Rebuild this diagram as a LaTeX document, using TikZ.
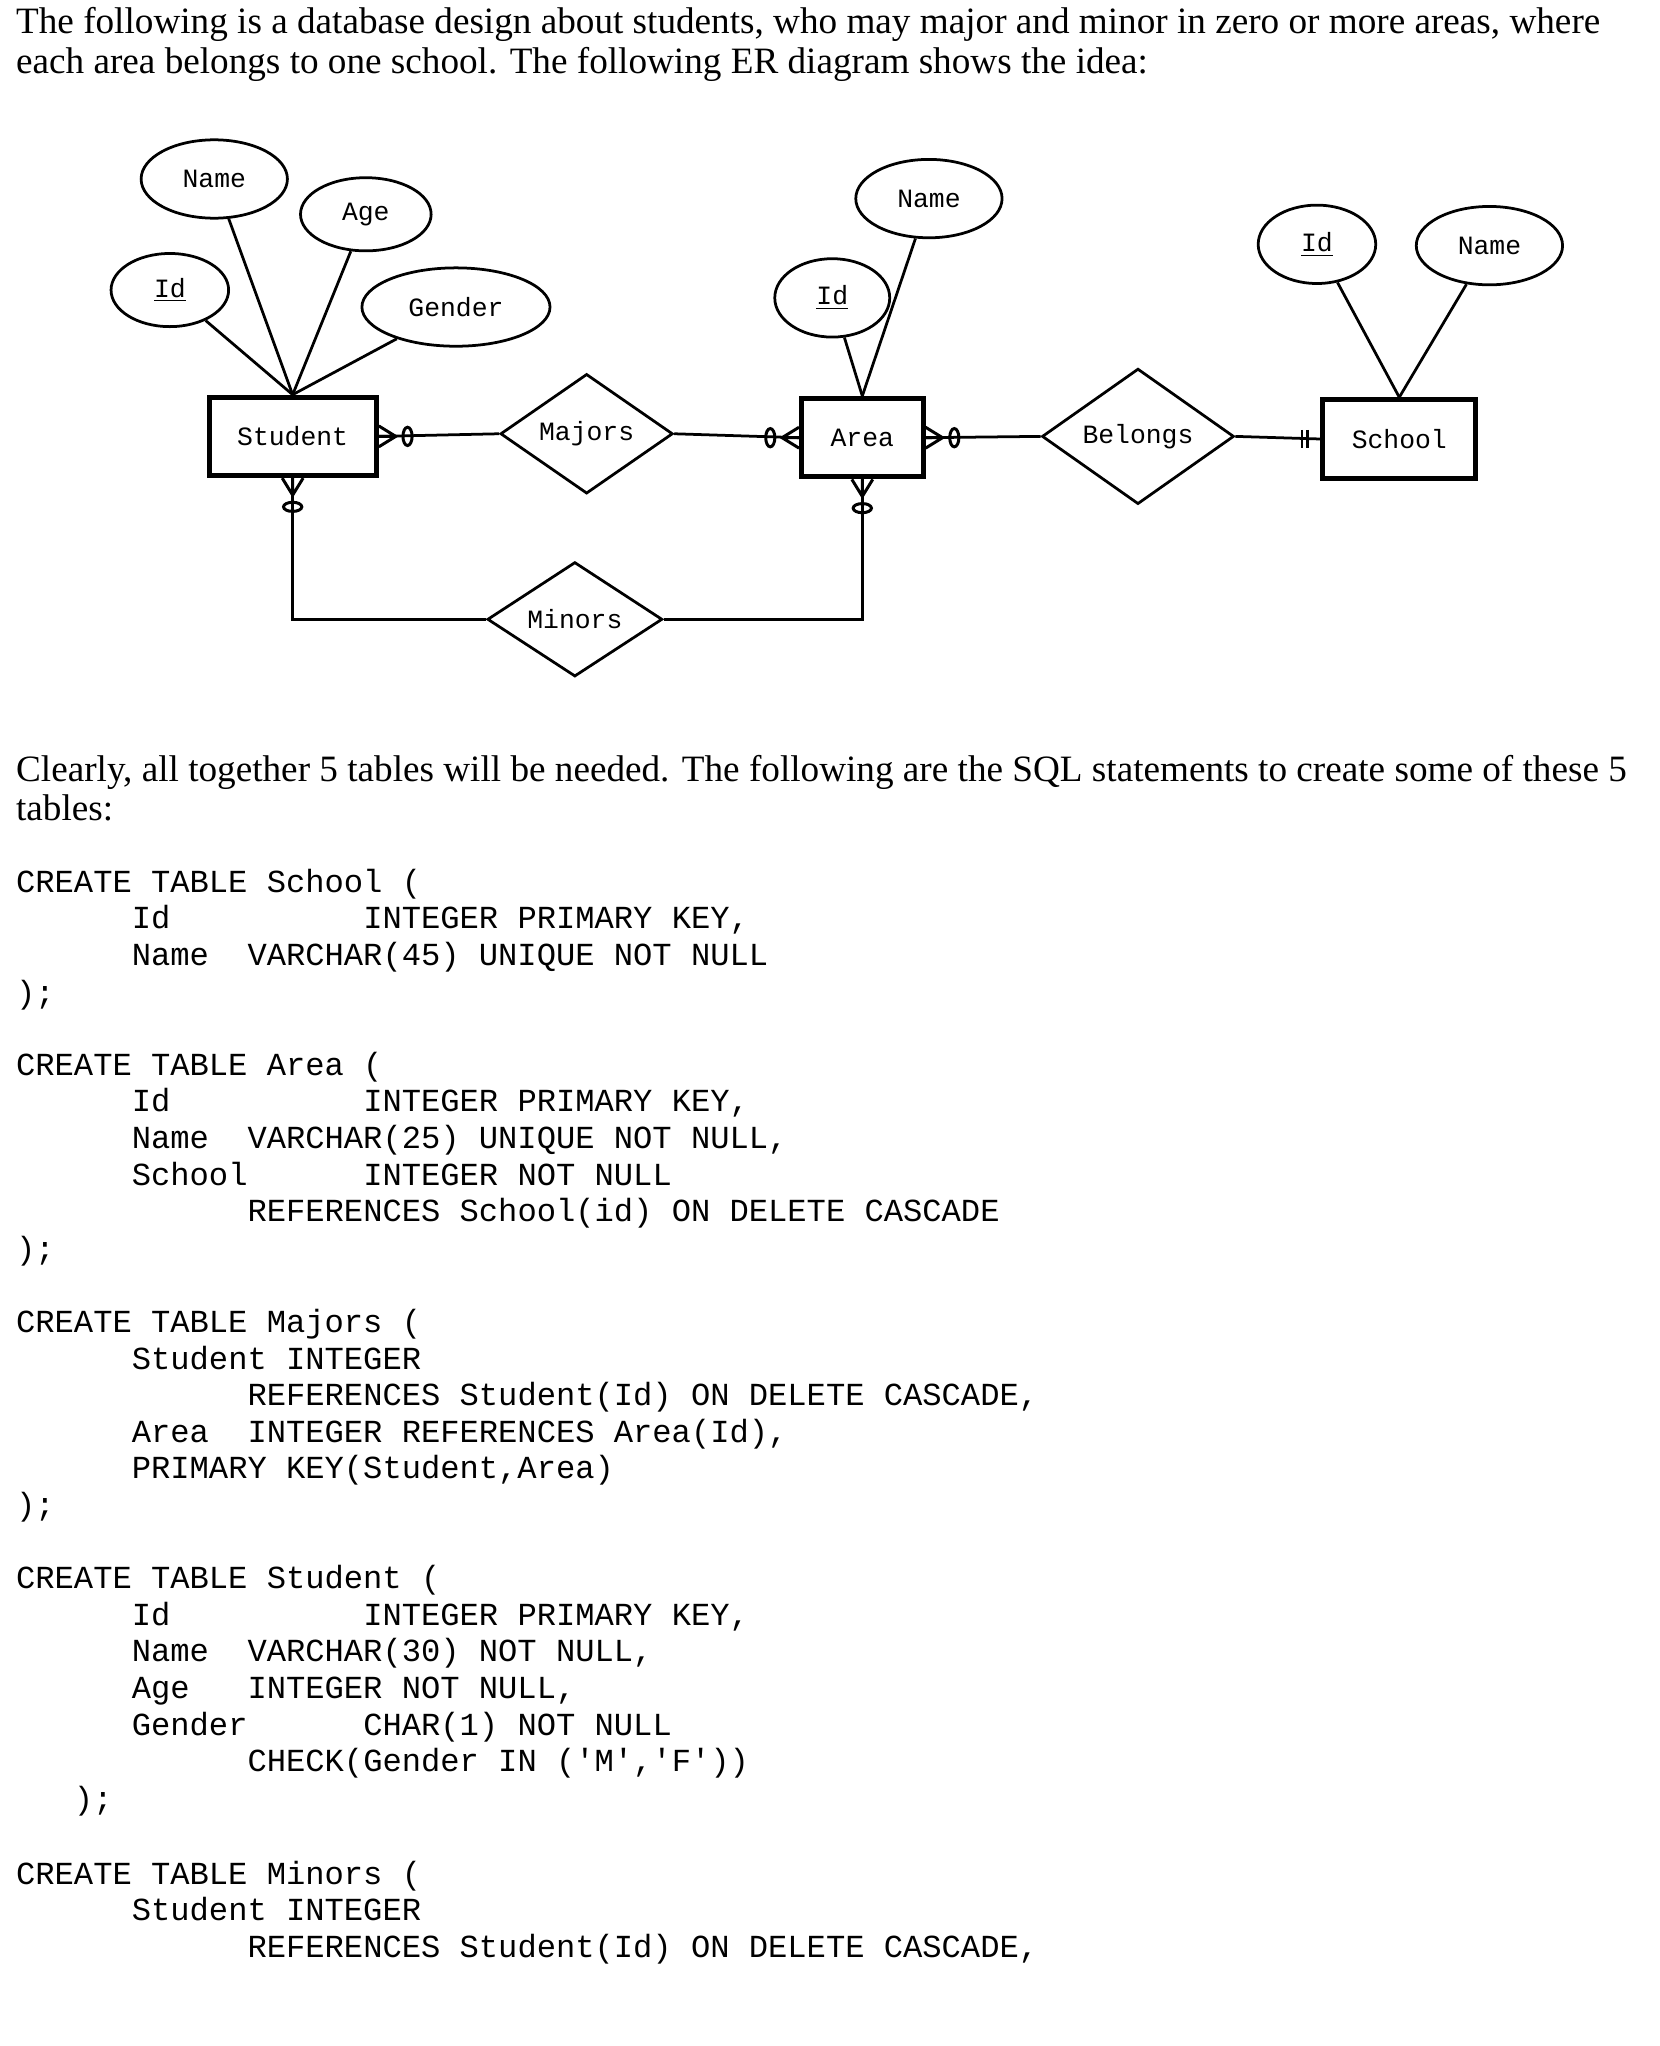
\documentclass[tikz,border=0pt]{standalone}
\usepackage{fontspec}
\setmainfont{Liberation Serif}
\setmonofont{Liberation Mono}
\usetikzlibrary{shapes.geometric}
\tikzset{
  entity/.style={draw, line width=2.2pt, font=\fontsize{11.5}{13}\selectfont\ttfamily, minimum height=1.2cm},
  relation/.style={diamond, draw, line width=1.2pt, inner sep=0pt, font=\fontsize{11.5}{13}\selectfont\ttfamily},
  attr/.style={ellipse, draw, line width=1.2pt, minimum height=1.2cm, inner sep=0pt, font=\fontsize{11.5}{13}\selectfont\ttfamily},
  link/.style={line width=1.2pt},
  prose/.style={anchor=base west, inner sep=0pt, font=\fontsize{16.2}{18}\selectfont},
  code/.style={anchor=base west, inner sep=0pt, font=\fontsize{14}{16}\selectfont\ttfamily}
}
% zero-or-many crow's foot at an anchor, pointing away along the given angle
\newcommand\zmany[2]{\begin{scope}[shift={(#1)}, rotate=#2, line width=1.3pt]
  \draw (0,8) -- (13,0) -- (0,-8) (0,0) -- (13,0);
  \draw (22,0) ellipse (3.5 and 7);
\end{scope}}
\begin{document}
\begin{tikzpicture}[x=0.02cm, y=-0.02cm]
  \useasboundingbox (0,0) rectangle (1270,1566);
  % intro text
  \node[prose] at (12,26) {The following is a database design about students, who may major and minor in zero or more areas, where};
  \node[prose] at (12,56) {each area belongs to one school. The following ER diagram shows the idea:};
  % entities and relations
  \node[entity, minimum width=2.56cm] (student) at (224,334) {Student};
  \node[entity, minimum width=1.86cm] (area) at (660,335) {Area};
  \node[entity, minimum width=2.34cm] (school) at (1071,336) {School};
  \node[relation, minimum width=2.64cm, minimum height=1.6cm] (majors) at (449,332) {Majors};
  \node[relation, minimum width=2.94cm, minimum height=1.76cm] (belongs) at (871,334) {Belongs};
  \node[relation, minimum width=2.68cm, minimum height=1.62cm] (minors) at (440,474) {Minors};
  % attributes
  \node[attr, minimum width=2.24cm] (sname) at (164,137) {Name};
  \node[attr, minimum width=2.0cm, minimum height=1.12cm] (sage) at (280,164) {Age};
  \node[attr, minimum width=1.8cm, minimum height=1.12cm] (sid) at (130,222) {\underline{Id}};
  \node[attr, minimum width=2.88cm] (sgender) at (349,235) {Gender};
  \node[attr, minimum width=2.24cm] (aname) at (711,152) {Name};
  \node[attr, minimum width=1.76cm] (aid) at (637,228) {\underline{Id}};
  \node[attr, minimum width=1.8cm] (schid) at (1008,187) {\underline{Id}};
  \node[attr, minimum width=2.24cm] (schname) at (1140,188) {Name};
  \foreach \a in {sname,sage,sid,sgender}
    \draw[link] (\a) -- (student.north);
  \foreach \a in {aname,aid}
    \draw[link] (\a) -- (area.north);
  \foreach \a in {schid,schname}
    \draw[link] (\a) -- (school.north);
  % relationships
  \draw[link] (student.east) -- (majors.west);
  \draw[link] (majors.east) -- (area.west);
  \draw[link] (area.east) -- (belongs.west);
  \draw[link] (belongs.east) -- (school.west);
  \draw[link] (student.south) |- (minors.west);
  \draw[link] (minors.east) -| (area.south);
  \zmany{student.east}{0}
  \zmany{area.west}{180}
  \zmany{area.east}{0}
  \zmany{student.south}{-90}
  \zmany{area.south}{-90}
  \draw[link] ([xshift=-0.2cm, yshift=0.14cm]school.west) -- ++(0,14)
    ([xshift=-0.28cm, yshift=0.14cm]school.west) -- ++(0,14);
  % text and SQL
  \node[prose] at (12,598) {Clearly, all together 5 tables will be needed. The following are the SQL statements to create some of these 5};
  \node[prose] at (12,628) {tables:};
  \foreach \y/\t in {
    683/{CREATE TABLE School (},
    711/{~~~~~~Id~~~~~~~~~~INTEGER PRIMARY KEY,},
    739/{~~~~~~Name~~VARCHAR(45) UNIQUE NOT NULL},
    768/{);},
    823/{CREATE TABLE Area (},
    851/{~~~~~~Id~~~~~~~~~~INTEGER PRIMARY KEY,},
    879/{~~~~~~Name~~VARCHAR(25) UNIQUE NOT NULL,},
    907/{~~~~~~School~~~~~~INTEGER NOT NULL},
    935/{~~~~~~~~~~~~REFERENCES School(id) ON DELETE CASCADE},
    964/{);},
    1020/{CREATE TABLE Majors (},
    1048/{~~~~~~Student INTEGER},
    1076/{~~~~~~~~~~~~REFERENCES Student(Id) ON DELETE CASCADE,},
    1104/{~~~~~~Area~~INTEGER REFERENCES Area(Id),},
    1132/{~~~~~~PRIMARY KEY(Student,Area)},
    1160/{);},
    1216/{CREATE TABLE Student (},
    1244/{~~~~~~Id~~~~~~~~~~INTEGER PRIMARY KEY,},
    1272/{~~~~~~Name~~VARCHAR(30) NOT NULL,},
    1300/{~~~~~~Age~~~INTEGER NOT NULL,},
    1328/{~~~~~~Gender~~~~~~CHAR(1) NOT NULL},
    1356/{~~~~~~~~~~~~CHECK(Gender IN ('M','F'))},
    1385/{~~~);},
    1442/{CREATE TABLE Minors (},
    1470/{~~~~~~Student INTEGER},
    1498/{~~~~~~~~~~~~REFERENCES Student(Id) ON DELETE CASCADE,}}
    \node[code] at (12,\y) {\t};
\end{tikzpicture}
\end{document}
